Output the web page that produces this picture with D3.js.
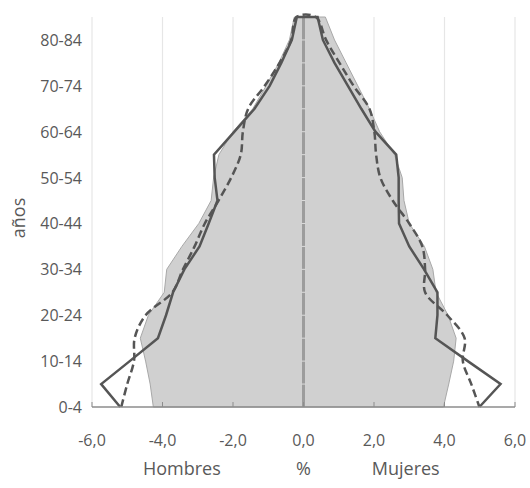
<!DOCTYPE html>
<html>
<head>
<meta charset="utf-8">
<script src="https://cdn.jsdelivr.net/npm/d3@7"></script>
<style>
  html, body { margin: 0; padding: 0; background: #ffffff; }
  svg { display: block; }
  text { font-family: "Open Sans", "Noto Sans", sans-serif; }
</style>
</head>
<body>
<svg id="chart" width="530" height="488"></svg>
<script>
// Age groups (bottom to top)
const ageGroups = ["0-4","5-9","10-14","15-19","20-24","25-29","30-34","35-39","40-44",
                   "45-49","50-54","55-59","60-64","65-69","70-74","75-79","80-84","85+"];

// Grey area (reference population), % of total
const areaMen   = [-4.26,-4.35,-4.48,-4.63,-4.40,-3.95,-3.88,-3.45,-2.97,-2.62,-2.55,-2.40,-2.00,-1.44,-1.06,-0.70,-0.40,-0.26];
const areaWomen = [ 3.97, 4.12, 4.26, 4.33, 4.10, 3.76, 3.67, 3.43, 3.00, 2.85, 2.80, 2.58, 2.16, 1.87, 1.54, 1.21, 0.88, 0.62];

// Solid line series
const solidMen   = [-5.20,-5.74,-4.93,-4.13,-3.90,-3.70,-3.38,-2.95,-2.69,-2.44,-2.52,-2.54,-1.96,-1.39,-0.96,-0.63,-0.33,-0.19];
const solidWomen = [ 4.99, 5.59, 4.66, 3.74, 3.80, 3.80, 3.42, 3.00, 2.71, 2.70, 2.70, 2.63, 2.04, 1.64, 1.26, 0.88, 0.55, 0.40];

// Dashed line series
const dashMen   = [-5.17,-5.00,-4.81,-4.79,-4.48,-3.72,-3.42,-3.09,-2.80,-2.41,-2.05,-1.78,-1.72,-1.57,-1.10,-0.68,-0.35,-0.20];
const dashWomen = [ 4.99, 4.76, 4.52, 4.57, 4.08, 3.45, 3.45, 3.37, 3.00, 2.53, 2.18, 2.06, 2.01, 1.87, 1.42, 1.02, 0.64, 0.35];

const xTicks = [-6,-4,-2,0,2,4,6];
const xTickLabels = ["-6,0","-4,0","-2,0","0,0","2,0","4,0","6,0"];
const yTickLabels = ["0-4","10-14","20-24","30-34","40-44","50-54","60-64","70-74","80-84"];

const textColor = "#595959";
const svg = d3.select("#chart");

const x = d3.scaleLinear().domain([-6, 6]).range([92, 515]);
const y = d3.scaleLinear().domain([0, ageGroups.length - 1]).range([407, 17]);

// vertical gridlines
svg.append("g").selectAll("line").data(xTicks.filter(d => d !== 0)).join("line")
  .attr("x1", d => x(d)).attr("x2", d => x(d))
  .attr("y1", y(ageGroups.length - 1)).attr("y2", y(0))
  .attr("stroke", "#e6e6e6").attr("stroke-width", 1.2);

// helper: closed outline men up, women down
function ring(men, women) {
  const pts = men.map((v, i) => [x(v), y(i)]);
  for (let i = women.length - 1; i >= 0; i--) pts.push([x(women[i]), y(i)]);
  return pts;
}

// grey area
svg.append("path")
  .attr("d", d3.line().curve(d3.curveLinearClosed)(ring(areaMen, areaWomen)))
  .attr("fill", "#d0d0d0")
  .attr("stroke", "#a8a8a8")
  .attr("stroke-width", 1);

// central axis
svg.append("line")
  .attr("x1", x(0)).attr("x2", x(0))
  .attr("y1", y(ageGroups.length - 1)).attr("y2", y(0))
  .attr("stroke", "#9c9c9c").attr("stroke-width", 3);
svg.append("g").selectAll("line").data(ageGroups.map((d, i) => i).slice(1, -1)).join("line")
  .attr("x1", x(0) - 2).attr("x2", x(0) + 2)
  .attr("y1", d => y(d)).attr("y2", d => y(d))
  .attr("stroke", "#dcdcdc").attr("stroke-width", 1);

// solid line
svg.append("path")
  .attr("d", d3.line()(ring(solidMen, solidWomen)))
  .attr("fill", "none")
  .attr("stroke", "#555555")
  .attr("stroke-width", 2.5)
  .attr("stroke-linejoin", "miter");

// dashed line
svg.append("path")
  .attr("d", d3.line().curve(d3.curveCatmullRom.alpha(0.5))(ring(dashMen, dashWomen)))
  .attr("fill", "none")
  .attr("stroke", "#555555")
  .attr("stroke-width", 2.5)
  .attr("stroke-dasharray", "8,4");

// bottom axis
svg.append("line")
  .attr("x1", x(-6)).attr("x2", x(6))
  .attr("y1", y(0)).attr("y2", y(0))
  .attr("stroke", "#8c8c8c").attr("stroke-width", 1.5);
svg.append("g").selectAll("line").data(xTicks).join("line")
  .attr("x1", d => x(d)).attr("x2", d => x(d))
  .attr("y1", y(0)).attr("y2", y(0) - 5)
  .attr("stroke", "#8c8c8c").attr("stroke-width", 1);

// x tick labels
svg.append("g").selectAll("text").data(xTicks).join("text")
  .attr("x", d => x(d)).attr("y", 440)
  .attr("text-anchor", "middle").attr("dominant-baseline", "central")
  .attr("fill", textColor)
  .style("font-size", "16px")
  .text((d, i) => xTickLabels[i]);

// y tick labels
svg.append("g").selectAll("text").data(yTickLabels).join("text")
  .attr("x", 82).attr("y", d => y(ageGroups.indexOf(d)))
  .attr("text-anchor", "end").attr("dominant-baseline", "central")
  .attr("fill", textColor)
  .style("font-size", "16px")
  .text(d => d);

// axis titles
const titles = [["Hombres", -3.45], ["%", 0], ["Mujeres", 2.9]];
svg.append("g").selectAll("text").data(titles).join("text")
  .attr("x", d => x(d[1])).attr("y", 468)
  .attr("text-anchor", "middle").attr("dominant-baseline", "central")
  .attr("fill", textColor)
  .style("font-size", "18px")
  .text(d => d[0]);

svg.append("text")
  .attr("transform", "translate(18,218) rotate(-90)")
  .attr("text-anchor", "middle").attr("dominant-baseline", "central")
  .attr("fill", textColor)
  .style("font-size", "18px")
  .text("años");
</script>
</body>
</html>
